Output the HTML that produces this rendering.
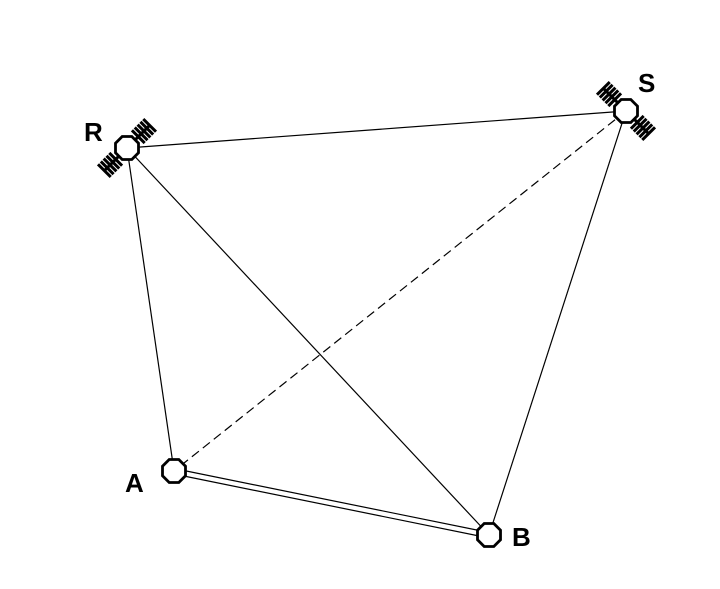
<!DOCTYPE html>
<html><head><style>html,body{margin:0;padding:0;background:#fff}</style></head><body>
<svg width="720" height="584" viewBox="0 0 720 584" xmlns="http://www.w3.org/2000/svg">
<defs>
<g id="oct"><polygon points="-4.8,-11.5 4.8,-11.5 11.5,-4.8 11.5,4.8 4.8,11.5 -4.8,11.5 -11.5,4.8 -11.5,-4.8" fill="#fff" stroke="#000" stroke-width="2.8"/></g>
<g id="panel" stroke="#000" stroke-width="3">
<line x1="10" y1="0" x2="32" y2="0"/>
<line x1="16" y1="-9" x2="16" y2="9"/>
<line x1="20" y1="-9" x2="20" y2="9"/>
<line x1="24" y1="-9" x2="24" y2="9"/>
<line x1="28" y1="-9" x2="28" y2="9"/>
<line x1="32" y1="-9" x2="32" y2="9"/>
</g>
</defs>
<g stroke="#000" stroke-width="1.2" fill="none">
<line x1="127" y1="148" x2="626" y2="111"/>
<line x1="127" y1="148" x2="174" y2="471"/>
<line x1="127" y1="148" x2="489" y2="535"/>
<line x1="626" y1="111" x2="489" y2="535"/>
<line x1="626" y1="111" x2="174" y2="471" stroke-dasharray="9,5"/>
<line x1="174" y1="468.5" x2="489" y2="532.5"/>
<line x1="174" y1="474" x2="489" y2="538"/>
</g>
<g transform="translate(127,148)"><use href="#panel" transform="rotate(-45)"/><use href="#panel" transform="rotate(135)"/><use href="#oct"/></g>
<g transform="translate(626,111)"><use href="#panel" transform="rotate(-135)"/><use href="#panel" transform="rotate(45)"/><use href="#oct"/></g>
<g transform="translate(174,471)"><use href="#oct"/></g>
<g transform="translate(489,535)"><use href="#oct"/></g>
<g font-family="Liberation Sans, sans-serif" font-weight="bold" font-size="26" fill="#000">
<text x="84" y="141">R</text>
<text x="638" y="92">S</text>
<text x="125" y="492">A</text>
<text x="512" y="546">B</text>
</g>
</svg>
</body></html>
